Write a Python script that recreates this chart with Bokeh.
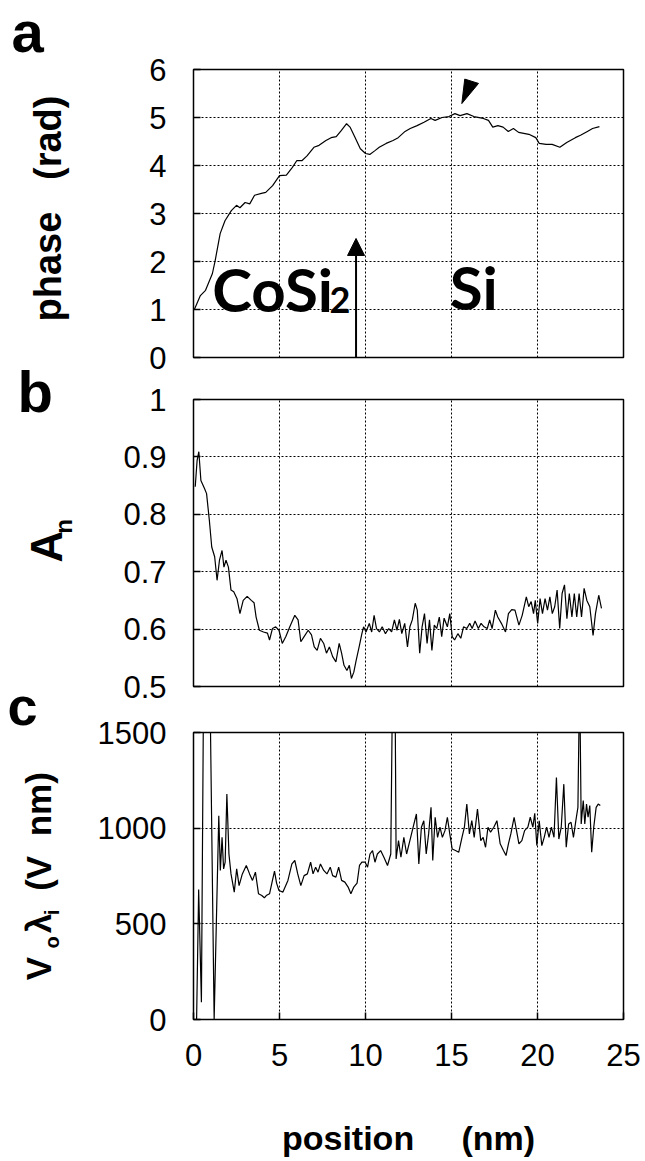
from math import pi
from bokeh.plotting import figure
from bokeh.layouts import column, row
from bokeh.models import Label, Arrow, NormalHead, FixedTicker, Range1d
from bokeh.embed import file_html
from bokeh.resources import INLINE

FONT = "Liberation Sans"
TAG_FONT = "Lato"
NB = "\u00a0"

# ---------------- data ----------------
x_ticks = [0, 5, 10, 15, 20, 25]

# panel a : phase (rad)
phase_x = [0.05, 0.4, 0.7, 1.1, 1.26, 1.55, 1.83, 2.2, 2.5, 2.7,
           3.0, 3.27, 3.55, 3.95, 4.2, 4.6, 5.0, 5.4, 5.75, 6.0,
           6.3, 6.6, 7.0, 7.3, 7.7, 8.0, 8.3, 8.6, 8.9, 9.1,
           9.4, 9.7, 10.0, 10.25, 10.55, 10.8, 11.2, 11.6, 11.9, 12.3,
           12.6, 13.0, 13.4, 13.8, 14.05, 14.45, 14.85, 15.2, 15.5, 15.9,
           16.3, 16.85, 17.15, 17.4, 17.7, 18.0, 18.3, 18.6, 18.9, 19.5,
           19.9, 20.1, 20.5, 20.85, 21.3, 21.7, 22.2, 22.5, 22.9, 23.2,
           23.6]
phase_y = [1.0, 1.29, 1.4, 1.75, 2.02, 2.58, 2.85, 3.06, 3.17, 3.12,
           3.23, 3.2, 3.38, 3.42, 3.44, 3.58, 3.79, 3.8, 3.96, 4.1,
           4.1, 4.2, 4.38, 4.42, 4.52, 4.58, 4.6, 4.73, 4.87, 4.8,
           4.58, 4.35, 4.25, 4.23, 4.31, 4.38, 4.46, 4.52, 4.58, 4.71,
           4.77, 4.83, 4.9, 4.98, 4.94, 5.0, 5.02, 5.08, 5.04, 5.08,
           5.02, 4.98, 4.94, 4.8, 4.83, 4.8, 4.71, 4.77, 4.69, 4.65,
           4.58, 4.46, 4.44, 4.44, 4.38, 4.48, 4.58, 4.63, 4.71, 4.77,
           4.81]
phase_ticks = [0, 1, 2, 3, 4, 5, 6]

# panel b : A_n
amp_x = [0.1, 0.21, 0.31, 0.43, 0.64, 0.76, 0.92, 1.06, 1.23, 1.37,
         1.51, 1.66, 1.77, 1.89, 2.03, 2.18, 2.34, 2.53, 2.7, 2.89,
         3.12, 3.36, 3.52, 3.64, 3.83, 4.07, 4.3, 4.42, 4.59, 4.78,
         4.97, 5.16, 5.37, 5.6, 5.89, 6.08, 6.24, 6.43, 6.67, 6.86,
         7.02, 7.19, 7.38, 7.57, 7.73, 7.9, 8.09, 8.28, 8.47, 8.61,
         8.75, 8.92, 9.06, 9.18, 9.32, 9.46, 9.63, 9.79, 9.89, 10.03,
         10.22, 10.36, 10.5, 10.64, 10.81, 10.97, 11.16, 11.35, 11.52, 11.68,
         11.83, 11.97, 12.11, 12.28, 12.44, 12.58, 12.72, 12.89, 13.01, 13.15,
         13.29, 13.43, 13.58, 13.72, 13.86, 14.0, 14.14, 14.29, 14.43, 14.57,
         14.76, 14.9, 15.04, 15.18, 15.37, 15.54, 15.7, 15.89, 16.06, 16.2,
         16.37, 16.56, 16.72, 16.89, 17.08, 17.22, 17.36, 17.55, 17.69, 17.9,
         18.14, 18.31, 18.5, 18.69, 18.92, 19.11, 19.35, 19.49, 19.63, 19.77,
         19.87, 20.01, 20.15, 20.29, 20.44, 20.58, 20.72, 20.86, 21.0, 21.14,
         21.29, 21.43, 21.57, 21.71, 21.85, 22.0, 22.14, 22.28, 22.42, 22.56,
         22.71, 22.87, 23.04, 23.23, 23.37, 23.56, 23.72]
amp_y = [0.848, 0.894, 0.909, 0.859, 0.845, 0.836, 0.79, 0.743, 0.726, 0.685,
         0.72, 0.737, 0.708, 0.72, 0.708, 0.668, 0.665, 0.653, 0.627, 0.65,
         0.657, 0.65, 0.646, 0.621, 0.598, 0.595, 0.593, 0.581, 0.601, 0.604,
         0.598, 0.575, 0.587, 0.604, 0.624, 0.616, 0.578, 0.587, 0.598, 0.59,
         0.569, 0.563, 0.584, 0.575, 0.558, 0.569, 0.552, 0.543, 0.575, 0.558,
         0.537, 0.528, 0.537, 0.514, 0.525, 0.546, 0.569, 0.592, 0.604, 0.595,
         0.61, 0.595, 0.624, 0.601, 0.595, 0.604, 0.592, 0.601, 0.595, 0.616,
         0.598, 0.617, 0.592, 0.61, 0.569, 0.604, 0.616, 0.645, 0.633, 0.558,
         0.604, 0.627, 0.575, 0.616, 0.563, 0.607, 0.601, 0.621, 0.587, 0.619,
         0.604, 0.627, 0.587, 0.581, 0.592, 0.584, 0.604, 0.601, 0.61, 0.601,
         0.614, 0.601, 0.61, 0.604, 0.601, 0.616, 0.601, 0.633, 0.621, 0.61,
         0.595, 0.627, 0.634, 0.633, 0.607, 0.624, 0.656, 0.639, 0.648, 0.627,
         0.65, 0.61, 0.653, 0.627, 0.653, 0.633, 0.656, 0.627, 0.639, 0.668,
         0.601, 0.662, 0.677, 0.618, 0.662, 0.621, 0.662, 0.621, 0.662, 0.621,
         0.671, 0.65, 0.639, 0.589, 0.627, 0.659, 0.636]
amp_ticks = [0.5, 0.6, 0.7, 0.8, 0.9, 1.0]
amp_tick_labels = ["0.5", "0.6", "0.7", "0.8", "0.9", "1"]

# panel c : V_o lambda_i (V nm)
vl_x = [0.05, 0.18, 0.3, 0.46, 0.68, 0.78, 1.2, 1.47, 1.56, 1.66,
        1.75, 1.84, 1.94, 2.06, 2.18, 2.37, 2.51, 2.65, 2.84, 3.07,
        3.26, 3.43, 3.6, 3.78, 3.97, 4.12, 4.23, 4.42, 4.59, 4.71,
        4.83, 4.97, 5.2, 5.49, 5.72, 5.89, 6.06, 6.24, 6.43, 6.62,
        6.81, 6.95, 7.1, 7.24, 7.38, 7.57, 7.76, 7.95, 8.09, 8.28,
        8.44, 8.61, 8.8, 8.99, 9.15, 9.32, 9.51, 9.65, 9.79, 9.98,
        10.12, 10.26, 10.41, 10.55, 10.69, 10.88, 11.07, 11.28, 11.47, 11.6,
        11.7, 11.78, 11.92, 12.06, 12.23, 12.39, 12.58, 12.77, 12.96, 13.1,
        13.25, 13.39, 13.53, 13.67, 13.81, 13.91, 14.05, 14.19, 14.33, 14.47,
        14.62, 14.76, 14.9, 15.04, 15.23, 15.42, 15.61, 15.75, 15.89, 16.04,
        16.18, 16.32, 16.51, 16.7, 16.84, 16.98, 17.12, 17.27, 17.46, 17.64,
        17.83, 18.02, 18.17, 18.31, 18.45, 18.64, 18.78, 18.92, 19.09, 19.25,
        19.44, 19.58, 19.73, 19.84, 19.96, 20.1, 20.25, 20.39, 20.53, 20.67,
        20.81, 20.96, 21.1, 21.24, 21.38, 21.53, 21.67, 21.81, 21.95, 22.09,
        22.23, 22.35, 22.45, 22.54, 22.66, 22.75, 22.85, 22.94, 23.04, 23.15,
        23.27, 23.41, 23.53, 23.65]
vl_y = [0, 0, 680, 90, 3000, 3000, 0, 1065, 779, 952,
        787, 822, 1178, 865, 761, 666, 787, 700, 761, 805,
        761, 727, 770, 657, 648, 636, 648, 657, 727, 775,
        713, 674, 666, 727, 813, 831, 761, 700, 752, 761,
        822, 761, 796, 770, 813, 779, 761, 796, 752, 744,
        796, 727, 718, 692, 657, 692, 713, 805, 822, 822,
        796, 865, 883, 822, 865, 883, 848, 805, 865, 2000,
        2000, 839, 935, 848, 952, 865, 935, 1005, 1074, 813,
        1005, 1039, 865, 970, 1109, 831, 1057, 952, 1005, 952,
        987, 1057, 970, 891, 883, 874, 952, 1005, 1126, 970,
        1039, 952, 1100, 935, 952, 900, 1005, 979, 1005, 1039,
        918, 883, 857, 918, 970, 1057, 987, 918, 935, 987,
        1005, 1057, 1005, 1078, 909, 1039, 909, 952, 1005, 952,
        1005, 952, 1265, 943, 1005, 1230, 900, 1022, 1031, 952,
        1039, 1109, 1800, 1022, 1144, 1022, 1126, 1057, 1118, 874,
        1005, 1109, 1126, 1118]
vl_ticks = [0, 500, 1000, 1500]

# annotations of panel a (data units)
interface_arrow = dict(x0=9.45, y0=0.0, x1=9.45, y1=2.48)
peak_marker_x = [15.6, 15.77, 16.57]
peak_marker_y = [5.29, 5.80, 5.71]

# ---------------- helpers ----------------
def text(p, x, y, s, size, font=FONT, angle=0.0, align="left",
         baseline="alphabetic"):
    p.add_layout(Label(x=x, y=y, text=s, text_font=font,
                       text_font_style="bold", text_font_size=size,
                       text_color="black", angle=angle,
                       text_align=align, text_baseline=baseline))


def vtext(p, x, y, s, size):
    text(p, x, y, s, size, angle=pi / 2, align="center", baseline="middle")


def panel(height, top, bottom, left, right, yr, yticks, ylabels, show_x):
    p = figure(width=561, height=height, x_range=Range1d(0, 25),
               y_range=Range1d(*yr), output_backend="svg",
               toolbar_location=None, tools="",
               min_border_left=left, min_border_right=right,
               min_border_top=top, min_border_bottom=bottom)
    p.background_fill_color = "white"
    p.border_fill_color = "white"
    p.outline_line_color = "black"
    p.outline_line_width = 1.5
    p.outline_line_alpha = 1.0

    p.xaxis.ticker = FixedTicker(ticks=x_ticks)
    p.yaxis.ticker = FixedTicker(ticks=yticks)
    p.xgrid.ticker = FixedTicker(ticks=x_ticks)
    p.ygrid.ticker = FixedTicker(ticks=yticks)
    for ax in (p.xaxis[0], p.yaxis[0]):
        ax.axis_line_color = None
        ax.major_tick_in = 7
        ax.major_tick_out = 0
        ax.major_tick_line_color = "black"
        ax.major_tick_line_width = 1.5
        ax.minor_tick_line_color = None
        ax.major_label_text_font = FONT
        ax.major_label_text_font_size = "31px"
        ax.major_label_text_color = "black"
    p.yaxis.major_label_standoff = 27
    p.yaxis.major_label_overrides = {t: s for t, s in zip(yticks, ylabels)}
    if show_x:
        p.xaxis.major_label_standoff = 24
        p.xaxis.major_label_overrides = {t: str(t) for t in x_ticks}
    else:
        p.xaxis.visible = False

    p.grid.grid_line_color = "black"
    p.grid.grid_line_dash = "2 2"
    p.grid.grid_line_width = 1
    p.grid.grid_line_alpha = 1.0
    return p


# ---------------- panel a ----------------
pa = panel(376, 69, 19, 109, 16, (0, 6), phase_ticks,
           [str(t) for t in phase_ticks], False)
pa.line(phase_x, phase_y, line_color="black", line_width=1.2)
text(pa, 1.09, 1.42, "CoSi", "60px", font=TAG_FONT)
text(pa, 7.91, 1.19, "2", "36px", font=TAG_FONT)
text(pa, 14.9, 1.46, "Si", "60px", font=TAG_FONT)
pa.add_layout(Arrow(end=NormalHead(size=17, fill_color="black",
                                   line_color="black"),
                    x_start=interface_arrow["x0"], y_start=interface_arrow["y0"],
                    x_end=interface_arrow["x1"], y_end=interface_arrow["y1"],
                    line_color="black", line_width=2))
pa.patch(peak_marker_x, peak_marker_y, fill_color="black", line_color="black")

# ---------------- panel b ----------------
pb = panel(329, 23, 19, 105, 21, (0.5, 1.0), amp_ticks, amp_tick_labels, False)
pb.line(amp_x, amp_y, line_color="black", line_width=1.2)

# ---------------- panel c ----------------
pc = panel(456, 27, 142, 104, 22, (0, 1500), vl_ticks,
           [str(t) for t in vl_ticks], True)
pc.line(vl_x, vl_y, line_color="black", line_width=1.2)
pc.xaxis.axis_label = "position" + NB * 5 + "(nm)"
pc.xaxis.axis_label_text_font = FONT
pc.xaxis.axis_label_text_font_style = "bold"
pc.xaxis.axis_label_text_font_size = "34px"
pc.xaxis.axis_label_text_color = "black"
pc.xaxis.axis_label_standoff = 50

# ---------------- side strip: panel tags and y titles ----------------
side = figure(width=84, height=1161, x_range=Range1d(0, 84),
              y_range=Range1d(1161, 0), output_backend="svg",
              toolbar_location=None, tools="",
              x_axis_type=None, y_axis_type=None,
              min_border_left=0, min_border_right=0,
              min_border_top=0, min_border_bottom=0)
side.outline_line_color = None
side.background_fill_color = "white"
side.border_fill_color = "white"

text(side, 11, 31, "a", "58px")
text(side, 17, 391, "b", "58px")
text(side, 7, 705, "c", "54px")
vtext(side, 47, 208, "phase" + NB * 3 + "(rad)", "38px")
vtext(side, 46, 546, "A", "44px")
vtext(side, 63, 526, "n", "24px")
vtext(side, 38, 968, "V", "35px")
vtext(side, 51, 942, "o", "20px")
vtext(side, 38, 923, "λ", "35px")
vtext(side, 51, 912, "i", "20px")
vtext(side, 38, 831, "(V" + NB * 2 + "nm)", "35px")

layout = row(side, column(pa, pb, pc, spacing=0), spacing=0)
open("out.html", "w").write(file_html(layout, INLINE))
